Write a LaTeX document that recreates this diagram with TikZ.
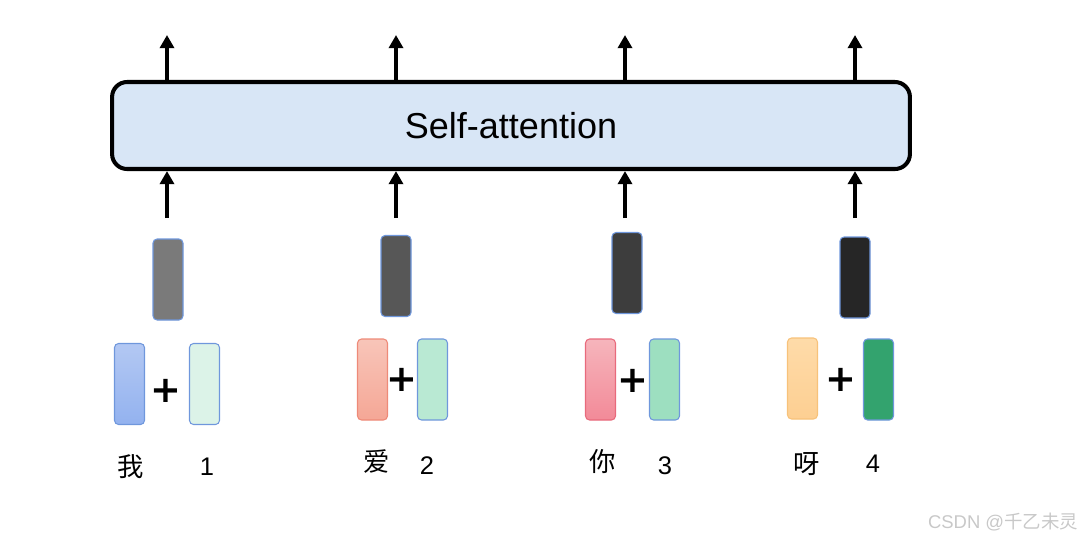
\documentclass[tikz,border=0pt]{standalone}
\usepackage{fontspec}
\setmainfont{Liberation Sans}
\newfontfamily\cjk{Noto Sans CJK SC}
\newfontfamily\plusfont{DejaVu Sans}
\usetikzlibrary{arrows.meta,positioning}
\definecolor{attnfill}{HTML}{D8E6F6}
\definecolor{vecedge}{HTML}{6F97DC}
\definecolor{grayA}{HTML}{7A7A7A}
\definecolor{grayB}{HTML}{575757}
\definecolor{grayC}{HTML}{3D3D3D}
\definecolor{grayD}{HTML}{262626}
\definecolor{blueT}{HTML}{B3C8F3}
\definecolor{blueB}{HTML}{93B2EF}
\definecolor{redT}{HTML}{F8C5B9}
\definecolor{redB}{HTML}{F5A796}
\definecolor{redE}{HTML}{EE8A78}
\definecolor{pinkT}{HTML}{F6B5BC}
\definecolor{pinkB}{HTML}{F28A98}
\definecolor{pinkE}{HTML}{E86A7C}
\definecolor{orT}{HTML}{FEDBA9}
\definecolor{orB}{HTML}{FDCF92}
\definecolor{orE}{HTML}{F7C27A}
\definecolor{grnA}{HTML}{DCF3E8}
\definecolor{grnB}{HTML}{B9E9D3}
\definecolor{grnC}{HTML}{9DDFC0}
\definecolor{grnD}{HTML}{33A36E}
\definecolor{mark}{HTML}{C8C8C8}

\begin{document}
\begin{tikzpicture}[x=0.02cm,y=-0.02cm,>={Triangle[length=7.5pt,width=8pt]}]
\tikzset{
  vec/.style={draw=vecedge,rounded corners=2.3pt,minimum width=0.6cm,minimum height=1.62cm,inner sep=0pt,line width=0.6pt},
  plus/.style={font=\plusfont\fontsize{21}{21}\bfseries\selectfont,inner sep=0pt},
  word/.style={font=\cjk\fontsize{15}{18}\selectfont,inner sep=0pt},
  num/.style={font=\fontsize{14.5}{17}\selectfont,inner sep=0pt},
  arr/.style={line width=2.4pt}
}
\useasboundingbox (0,0) rectangle (1087,539);
% self-attention layer
\node[draw,line width=2.3pt,rounded corners=0.3cm,fill=attnfill,
  minimum width=15.96cm,minimum height=1.74cm,
  font=\fontsize{20.5}{24}\selectfont] (attn) at (511,125.5) {Self-attention};
\foreach \i/\x in {1/167,2/396,3/625,4/855}{
  \coordinate (in\i) at (\x,218);
  \coordinate (out\i) at (\x,35);
  \draw[->,arr] (in\i) -- (in\i |- attn.south);
  \draw[->,arr] (out\i |- attn.north) -- (out\i);
}
% summed vectors
\node[vec,fill=grayA] (sum1) at (168,279.5) {};
\node[vec,fill=grayB] (sum2) at (396,276) {};
\node[vec,fill=grayC] (sum3) at (627,273) {};
\node[vec,fill=grayD] (sum4) at (855,277.5) {};
% word embeddings + position embeddings
\node[vec,top color=blueT,bottom color=blueB] (emb1) at (129.5,384) {};
\node[vec,fill=grnA] (pos1) at (204.5,384) {};
\node[plus] (plus1) at (166,391) {+};
\node[vec,draw=redE,top color=redT,bottom color=redB] (emb2) at (372.5,379.5) {};
\node[vec,fill=grnB] (pos2) at (432.5,379.5) {};
\node[plus] (plus2) at (402,380) {+};
\node[vec,draw=pinkE,top color=pinkT,bottom color=pinkB] (emb3) at (600.5,379.5) {};
\node[vec,fill=grnC] (pos3) at (664.5,379.5) {};
\node[plus] (plus3) at (633,381) {+};
\node[vec,draw=orE,top color=orT,bottom color=orB] (emb4) at (802.5,378.5) {};
\node[vec,fill=grnD] (pos4) at (878.5,379.5) {};
\node[plus] (plus4) at (841,380) {+};
% labels
\node[word] (w1) at (131,467) {我};
\node[num]  (n1) at (207,467) {1};
\node[word] (w2) at (377,462) {爱};
\node[num]  (n2) at (427,466) {2};
\node[word] (w3) at (603,462) {你};
\node[num]  (n3) at (665,466) {3};
\node[word] (w4) at (807,464) {呀};
\node[num]  (n4) at (873,464) {4};
\node[text=mark,font=\fontsize{10.5}{12}\selectfont,inner sep=0pt] (wm) at (1003,522) {CSDN @{\cjk 千乙未灵}};
\end{tikzpicture}
\end{document}
